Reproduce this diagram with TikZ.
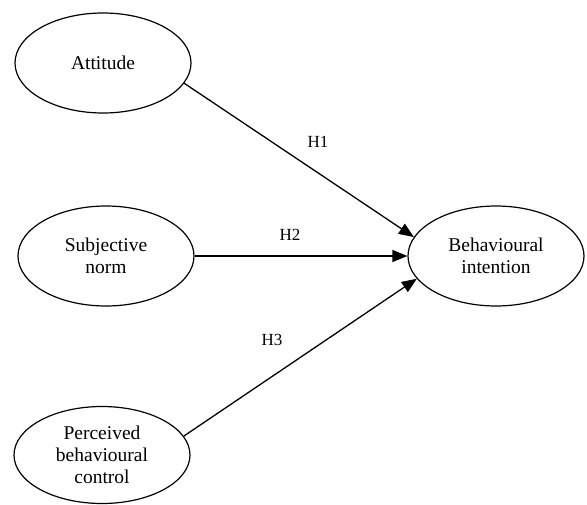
\documentclass[tikz,border=0pt]{standalone}
\usepackage{fontspec}
\setmainfont{Liberation Serif}
\usetikzlibrary{shapes.geometric,arrows.meta}
\begin{document}
\begin{tikzpicture}[x=1pt,y=-1pt,
  construct/.style={ellipse,draw,line width=1.2pt,minimum width=176pt,minimum height=100pt,inner sep=0pt,align=center,font=\fontsize{19.5}{22}\selectfont},
  hyp/.style={font=\fontsize{17}{20}\selectfont,inner sep=1pt},
  path/.style={line width=1.3pt,-{Triangle[length=15pt,width=12pt]}}]
\useasboundingbox (0,0) rectangle (587,504);
\clip (0,0) rectangle (587,504);
\node[construct] (att) at (103,63) {Attitude};
\node[construct] (sn) at (106,256) {Subjective\\norm};
\node[construct,minimum height=97pt] (pbc) at (102,455) {Perceived\\behavioural\\control};
\node[construct] (bi) at (496,256) {Behavioural\\intention};
\draw[path] (att.-14) -- (bi.167);
\draw[path] (sn.east) -- (bi.west);
\draw[path] (pbc.13) -- (bi.-164);
\node[hyp] (h1) at (318,142) {H1};
\node[hyp] (h2) at (290,235) {H2};
\node[hyp] (h3) at (272,340) {H3};
\end{tikzpicture}
\end{document}
